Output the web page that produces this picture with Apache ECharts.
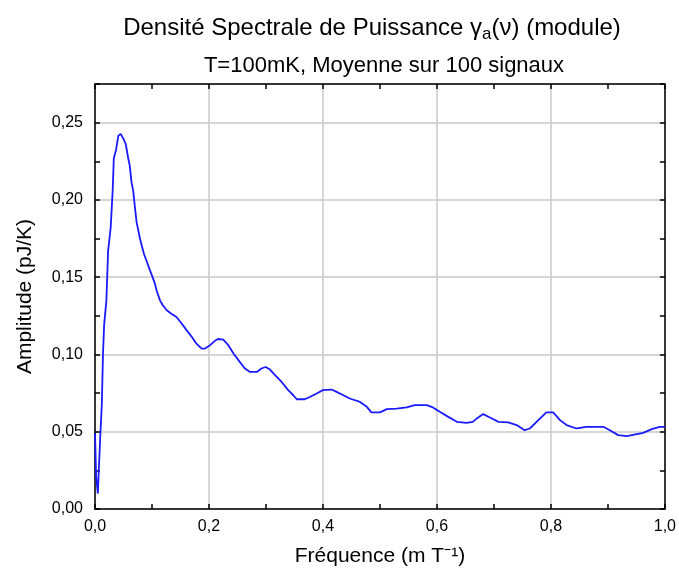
<!DOCTYPE html>
<html>
<head>
<meta charset="utf-8">
<script src="https://cdn.jsdelivr.net/npm/echarts@6/dist/echarts.min.js"></script>
<style>html,body{margin:0;padding:0;background:#fff;}#c{width:679px;height:573px;}</style>
</head>
<body>
<div id="c"></div>
<script>
const freq = [0.000,0.002,0.005,0.007,0.009,0.012,0.014,0.016,0.020,0.023,0.0275,
  0.031,0.033,0.037,0.041,0.045,0.050,0.054,0.058,0.061,0.064,
  0.067,0.070,0.073,0.079,0.082,0.086,0.091,0.0965,0.101,0.105,
  0.108,0.114,0.119,0.126,0.134,0.143,0.152,0.161,0.170,0.178,
  0.187,0.193,0.202,0.211,0.216,0.225,0.234,0.243,0.254,0.263,
  0.272,0.284,0.292,0.2995,0.307,0.316,0.3275,0.339,0.348,0.354,
  0.368,0.377,0.389,0.400,0.415,0.424,0.436,0.447,0.465,0.477,
  0.485,0.500,0.512,0.529,0.547,0.561,0.582,0.593,0.605,0.620,
  0.635,0.652,0.663,0.670,0.681,0.693,0.708,0.725,0.740,0.754,
  0.763,0.778,0.792,0.804,0.816,0.8275,0.845,0.8625,0.892,0.9035,
  0.918,0.933,0.962,0.977,0.991,1.000];
const amplitude = [0.049,0.021,0.010,0.028,0.045,0.068,0.100,0.119,0.135,0.167,0.182,
  0.206,0.227,0.2325,0.2416,0.2427,0.2395,0.236,0.2276,0.222,0.2115,
  0.206,0.1953,0.1856,0.1749,0.1705,0.165,0.160,0.1544,0.150,0.146,
  0.1415,0.135,0.1318,0.1286,0.1264,0.1242,0.120,0.1156,0.1113,0.107,
  0.1038,0.1038,0.106,0.109,0.110,0.1096,0.106,0.1006,0.0952,0.0909,
  0.0887,0.0887,0.0909,0.0919,0.0902,0.0866,0.0822,0.0769,0.0736,0.071,
  0.071,0.0725,0.0747,0.0769,0.0773,0.0758,0.0736,0.0715,0.0693,0.0661,
  0.0625,0.0625,0.0646,0.065,0.0657,0.0672,0.0672,0.0657,0.0629,0.0596,
  0.0564,0.0557,0.0564,0.0586,0.0614,0.0592,0.0564,0.056,0.0543,0.051,
  0.0521,0.0575,0.0625,0.0625,0.0575,0.0543,0.0521,0.0532,0.0532,0.051,
  0.0478,0.0472,0.0493,0.0517,0.0532,0.0532];
const xTicks = [0,0.2,0.4,0.6,0.8,1.0];
const yTicks = [0,0.05,0.10,0.15,0.20,0.25];

const FONT = '"Liberation Sans", Arial, sans-serif';
const chart = echarts.init(document.getElementById('c'), null, {renderer:'canvas'});
const data = freq.map((f,i)=>[f, amplitude[i]]);
const comma = (v,d)=>v.toFixed(d).replace('.', ',');

const tickAxisBase = {
  axisLabel:{show:false}, splitLine:{show:false},
  axisTick:{show:true, inside:true, length:5, lineStyle:{color:'#000', width:1.5}}
};

chart.setOption({
  animation:false,
  backgroundColor:'#fff',
  title:[
    {text:'{n|Densité Spectrale de Puissance γ}{s|a}{n|(ν) (module)}', left:367, top:8, textAlign:'center',
     textStyle:{rich:{
       n:{fontFamily:FONT, fontSize:24, color:'#000', fontWeight:'normal', lineHeight:30},
       s:{fontFamily:FONT, fontSize:17, color:'#000', fontWeight:'normal', lineHeight:30, padding:[12,0,0,0]}
     }}},
    {text:'T=100mK, Moyenne sur 100 signaux', left:379, top:50, textAlign:'center',
     textStyle:{fontFamily:FONT, fontSize:22, color:'#000', fontWeight:'normal'}}
  ],
  grid:{left:95, right:14, top:84, bottom:64, containLabel:false},
  xAxis:[
    {type:'value', position:'bottom', min:0, max:1, interval:0.2,
     axisLine:{show:true, onZero:false, lineStyle:{color:'#000', width:1.5}},
     axisTick:{show:false},
     axisLabel:{fontFamily:FONT, fontSize:16, color:'#000', margin:10,
       formatter:v=> xTicks.some(t=>Math.abs(t-v)<1e-9) ? comma(v,1) : ''},
     splitLine:{show:true, lineStyle:{color:'#c8c8c8', width:1.5}},
     name:'Fréquence (m T⁻¹)', nameLocation:'middle', nameGap:37,
     nameTextStyle:{fontFamily:FONT, fontSize:21, color:'#000'}},
    Object.assign({type:'value', position:'bottom', min:0, max:1, interval:0.1,
     axisLine:{show:false, onZero:false}}, tickAxisBase),
    Object.assign({type:'value', position:'top', min:0, max:1, interval:0.1,
     axisLine:{show:true, onZero:false, lineStyle:{color:'#000', width:1.5}}}, tickAxisBase)
  ],
  yAxis:[
    {type:'value', position:'left', min:0, max:0.275, interval:0.05,
     axisLine:{show:true, onZero:false, lineStyle:{color:'#000', width:1.5}},
     axisTick:{show:false},
     axisLabel:{fontFamily:FONT, fontSize:16, color:'#000', margin:12,
       formatter:v=> yTicks.some(t=>Math.abs(t-v)<1e-9) ? comma(v,2) : ''},
     splitLine:{show:true, lineStyle:{color:'#c8c8c8', width:1.5}},
     name:'Amplitude (pJ/K)', nameLocation:'middle', nameGap:59, nameRotate:90,
     nameTextStyle:{fontFamily:FONT, fontSize:21, color:'#000'}},
    Object.assign({type:'value', position:'left', min:0, max:0.275, interval:0.025,
     axisLine:{show:false, onZero:false}}, tickAxisBase),
    Object.assign({type:'value', position:'right', min:0, max:0.275, interval:0.025,
     axisLine:{show:true, onZero:false, lineStyle:{color:'#000', width:1.5}}}, tickAxisBase)
  ],
  series:[{
    type:'line', xAxisIndex:0, yAxisIndex:0, data:data, showSymbol:false, smooth:false,
    lineStyle:{color:'#1a1aff', width:1.8}, z:5
  }]
});
</script>
</body>
</html>
